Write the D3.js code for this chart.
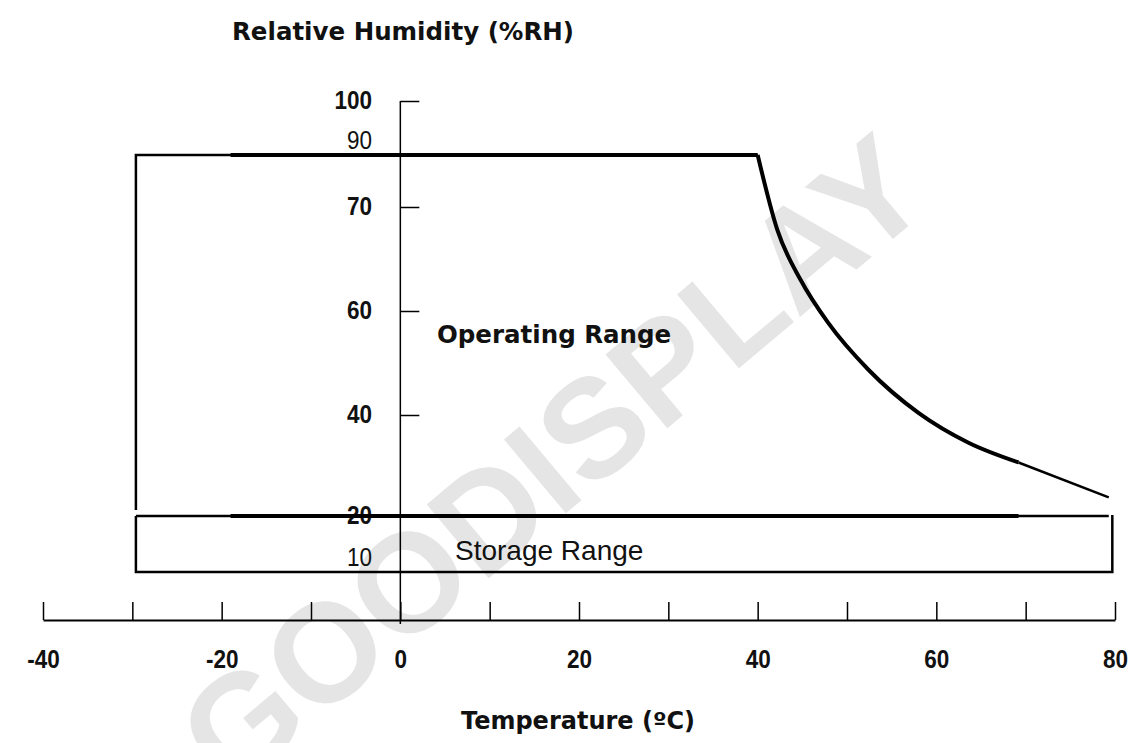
<!DOCTYPE html>
<html>
<head>
<meta charset="utf-8">
<script src="https://cdn.jsdelivr.net/npm/d3@7/dist/d3.min.js"></script>
<style>
  body { margin: 0; background: #fff; }
  svg { display: block; }
</style>
</head>
<body>
<svg id="chart"></svg>
<script>
// temperature axis (degC)
const tempTicks = [-40, -30, -20, -10, 0, 10, 20, 30, 40, 50, 60, 70, 80];
const tempLabels = [-40, -20, 0, 20, 40, 60, 80];

// humidity axis (%RH) - the drawing is schematic, so the scale is piecewise
const rhStops = [10, 20, 40, 60, 70, 90, 100];
const rhTicks = [100, 70, 60, 40, 20];
const rhLabels = [100, 90, 70, 60, 40, 20, 10];

// operating range outline
const opLeft = -29.6;
const opTop = 90;
const opLeftBottom = 21.2;
const opKneeTemp = 40;
const curveTemps = [40, 42.2, 44.8, 47.9, 52.4, 58, 63.6, 69.2];
const curveRH = [90, 67.8, 63, 57.7, 48.7, 40.4, 34.5, 30.6];
const tailTemps = [69.2, 79.3];
const tailRH = [30.6, 23.7];
const opBottom = 20;
const thickFrom = -19;
const thickTo = 69.2;

// storage range box
const storageTemps = [-29.6, 79.7];
const storageRH = [20, 10];

const chart = {
  width: 1133,
  height: 743,
  axisY: 620,
};

const svg = d3.select("#chart")
  .attr("width", chart.width)
  .attr("height", chart.height);

let x = d3.scaleLinear()
  .domain([-40, 80])
  .range([43, 1115]);

let y = d3.scaleLinear()
  .domain(rhStops)
  .range([572, 516, 415, 311, 207, 155, 101]);

// watermark
svg.append("text")
  .attr("transform", "translate(560,470) rotate(-40)")
  .attr("text-anchor", "middle")
  .attr("dominant-baseline", "middle")
  .attr("font-family", "Liberation Sans, Arial, sans-serif")
  .attr("font-weight", "bold")
  .attr("font-size", 140)
  .attr("fill", "#e5e5e5")
  .text("GOODISPLAY");

const numFont = "Liberation Sans, Arial, sans-serif";

// squeeze numbers a bit, the original uses a narrow face
function narrow(sel) {
  sel.each(function () {
    let len = this.getComputedTextLength();
    if (len > 0) {
      d3.select(this)
        .attr("textLength", len * 0.9)
        .attr("lengthAdjust", "spacingAndGlyphs");
    }
  });
}

// x axis
let xAxis = g => g
  .attr("transform", `translate(0,${chart.axisY})`)
  .call(d3.axisBottom(x)
    .tickValues(tempTicks)
    .tickFormat(d => tempLabels.includes(d) ? d : "")
    .tickSizeInner(-18)
    .tickSizeOuter(0)
    .tickPadding(30))
  .call(g => g.select(".domain").attr("stroke-width", 2))
  .call(g => g.selectAll(".tick line").attr("stroke-width", 1.5))
  .call(g => g.selectAll(".tick text")
    .attr("font-family", numFont)
    .attr("font-weight", "bold")
    .attr("font-size", 25)
    .attr("fill", "#111")
    .call(narrow));

svg.append("g").call(xAxis);

// y axis: line down to the temperature axis, ticks to the right
svg.append("line")
  .attr("x1", x(0)).attr("x2", x(0))
  .attr("y1", y(100)).attr("y2", chart.axisY + 4)
  .attr("stroke", "#000")
  .attr("stroke-width", 1.5);

let yAxis = g => g
  .attr("transform", `translate(${x(0)},0)`)
  .call(d3.axisRight(y)
    .tickValues(rhTicks)
    .tickFormat("")
    .tickSizeInner(19)
    .tickSizeOuter(0))
  .call(g => g.select(".domain").remove())
  .call(g => g.selectAll(".tick line").attr("stroke-width", 1.5));

svg.append("g").call(yAxis);

svg.append("g")
  .selectAll("text")
  .data(rhLabels)
  .join("text")
  .attr("x", 372)
  .attr("y", d => rhTicks.includes(d) ? y(d) - 1 : y(d) - 15)
  .attr("dy", "0.36em")
  .attr("text-anchor", "end")
  .attr("font-family", numFont)
  .attr("font-weight", d => rhTicks.includes(d) ? "bold" : "normal")
  .attr("font-size", 25)
  .attr("fill", "#111")
  .text(d => d)
  .call(narrow);

// outlines
const line = d3.line().x(d => x(d[0])).y(d => y(d[1]));
const curve = d3.line().x(d => x(d[0])).y(d => y(d[1])).curve(d3.curveMonotoneX);

const thin = [
  [[opLeft, opLeftBottom], [opLeft, opTop], [opKneeTemp, opTop]],
  d3.zip(tailTemps, tailRH),
  [[storageTemps[0], storageRH[0]], [tailTemps[1], storageRH[0]]],
  [[storageTemps[1], storageRH[0] + 0.2], [storageTemps[1], storageRH[1]],
   [storageTemps[0], storageRH[1]], [storageTemps[0], storageRH[0]]],
];

svg.append("g")
  .selectAll("path")
  .data(thin)
  .join("path")
  .attr("d", line)
  .attr("fill", "none")
  .attr("stroke", "#000")
  .attr("stroke-width", 2.5);

svg.append("path")
  .attr("d", line([[thickFrom, opTop], [opKneeTemp, opTop]]))
  .attr("fill", "none")
  .attr("stroke", "#000")
  .attr("stroke-width", 4);

svg.append("path")
  .attr("d", line([[thickFrom, opBottom], [thickTo, opBottom]]))
  .attr("fill", "none")
  .attr("stroke", "#000")
  .attr("stroke-width", 4);

svg.append("path")
  .attr("d", curve(d3.zip(curveTemps, curveRH)))
  .attr("fill", "none")
  .attr("stroke", "#000")
  .attr("stroke-width", 4)
  .attr("stroke-linejoin", "round");

// texts
svg.append("text")
  .attr("x", 437)
  .attr("y", y(60) + 32)
  .attr("font-family", "DejaVu Sans, Verdana, sans-serif")
  .attr("font-weight", "bold")
  .attr("font-size", 24.5)
  .attr("fill", "#111")
  .text("Operating Range");

svg.append("text")
  .attr("x", 455)
  .attr("y", 560)
  .attr("font-family", "Liberation Sans, Arial, sans-serif")
  .attr("font-size", 28)
  .attr("fill", "#111")
  .text("Storage Range");

svg.append("text")
  .attr("x", 232)
  .attr("y", 40)
  .attr("font-family", "DejaVu Sans, Verdana, sans-serif")
  .attr("font-weight", "bold")
  .attr("font-size", 24.5)
  .attr("fill", "#111")
  .text("Relative Humidity (%RH)");

svg.append("text")
  .attr("x", 578)
  .attr("y", 729)
  .attr("text-anchor", "middle")
  .attr("font-family", "DejaVu Sans, Verdana, sans-serif")
  .attr("font-weight", "bold")
  .attr("font-size", 24)
  .attr("fill", "#111")
  .text("Temperature (ºC)");
</script>
</body>
</html>
